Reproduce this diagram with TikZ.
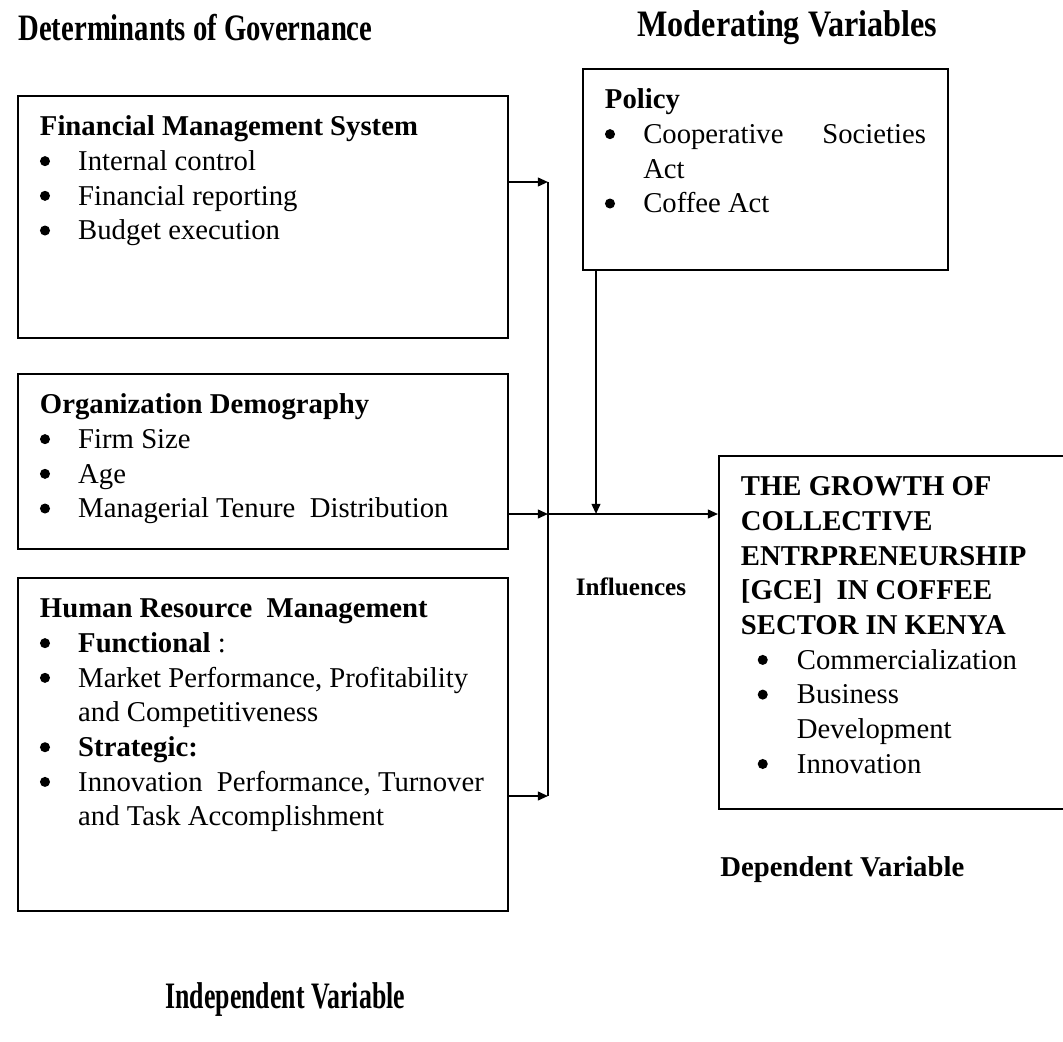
\documentclass[tikz,border=0pt]{standalone}
\usepackage{fontspec}
\setmainfont{Liberation Serif}
\usepackage{graphicx}
\usepackage{enumitem}
\usetikzlibrary{positioning,arrows.meta,calc}

\newdimen\px \px=0.418pt
\newcommand{\bigbullet}{\tikz[baseline={(0pt,-3.9pt)}]\fill (0pt,0pt) circle (2.1pt);}
\setlist[itemize]{label=\bigbullet, leftmargin=16pt, labelwidth=16pt, labelsep=0pt, align=left, nosep}
\newcommand{\boxbody}[3]{\parbox[t][\dimexpr#2\px-13pt\relax][t]{\dimexpr#1\px-18.4pt\relax}{\raggedright\strut#3}}
\newcommand{\tallHead}[2][1]{\scalebox{#1}[1.3]{#2}}

\begin{document}
\begin{tikzpicture}[x=0.418pt, y=-0.418pt,
    boxPart/.style={draw, line width=0.8pt, anchor=north west, inner xsep=9.2pt, inner ysep=6.5pt, font=\fontsize{12}{14.5}\selectfont},
    headText/.style={anchor=west, inner sep=0pt, font=\fontsize{12}{14.5}\selectfont\bfseries},
    arrowStyle/.style={-{Triangle[length=4.2pt,width=3.6pt]}, line width=0.8pt}
]
    \useasboundingbox (0,0) rectangle (1063,1041);

    \node[headText] (detHead) at (18,28) {\tallHead{Determinants of Governance}};
    \node[headText] (modHead) at (637,28) {\tallHead[1.12]{Moderating Variables}};

    \node[boxPart] (fms) at (17,95) {\boxbody{490}{242}{%
        \textbf{Financial Management System}
        \begin{itemize}
            \item Internal control
            \item Financial reporting
            \item Budget execution
        \end{itemize}}};

    \node[boxPart] (odm) at (17,373) {\boxbody{490}{175}{%
        \textbf{Organization Demography}
        \begin{itemize}
            \item Firm Size
            \item Age
            \item Managerial Tenure\ \ Distribution
        \end{itemize}}};

    \node[boxPart] (hrm) at (17,577) {\boxbody{490}{333}{%
        \textbf{Human Resource\ \ Management}
        \begin{itemize}
            \item \textbf{Functional} :
            \item Market Performance, Profitability\newline and Competitiveness
            \item \textbf{Strategic:}
            \item \mbox{Innovation\ \ Performance, Turnover}\newline and Task Accomplishment
        \end{itemize}}};

    \node[boxPart] (policy) at (582,68) {\boxbody{365}{201}{%
        \textbf{Policy}
        \begin{itemize}
            \item Cooperative\hfill Societies\newline Act
            \item Coffee Act
        \end{itemize}}};

    \node[boxPart] (growth) at (718,455) {\boxbody{360}{353}{%
        \textbf{THE GROWTH OF\newline COLLECTIVE\newline ENTRPRENEURSHIP\newline [GCE]\ \ IN COFFEE\newline SECTOR IN KENYA}
        \begin{itemize}[leftmargin=23.4pt, labelwidth=16.4pt]
            \item Commercialization
            \item Business\newline Development
            \item Innovation
        \end{itemize}}};

    \node[font=\fontsize{10.5}{12}\selectfont\bfseries, inner sep=0pt] (infl) at (631,587) {Influences};

    \node[headText] (depHead) at (720,870) {Dependent Variable};
    \node[headText] (indHead) at (165,1000) {\tallHead[0.9]{Independent Variable}};

    % joining line and arrows
    \coordinate (fmsIn) at (548,182);
    \coordinate (odmIn) at (548,514);
    \coordinate (hrmIn) at (548,796);
    \coordinate (polIn) at (596,514);
    \draw[arrowStyle] (fms.east |- fmsIn) -- (fmsIn);
    \draw[arrowStyle] (odm.east |- odmIn) -- (odmIn);
    \draw[arrowStyle] (hrm.east |- hrmIn) -- (hrmIn);
    \draw[line width=0.8pt] (fmsIn) -- (hrmIn);
    \draw[arrowStyle] (odmIn) -- (odmIn -| growth.west);
    \draw[arrowStyle] (polIn |- policy.south) -- (polIn);
\end{tikzpicture}
\end{document}
